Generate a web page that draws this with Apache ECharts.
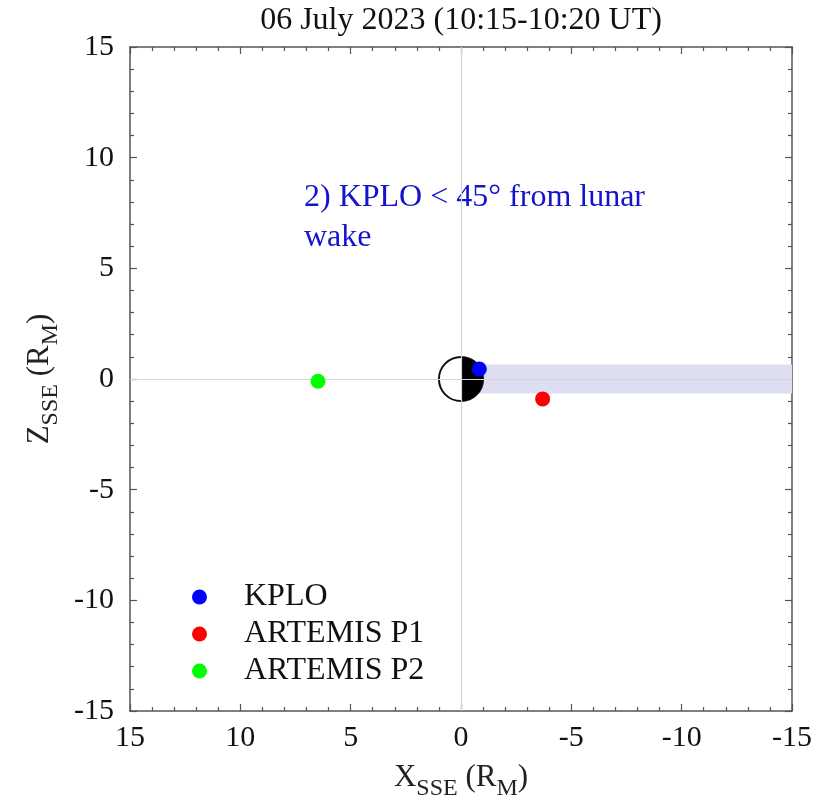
<!DOCTYPE html>
<html>
<head>
<meta charset="utf-8">
<script src="https://cdn.jsdelivr.net/npm/echarts@6/dist/echarts.min.js"></script>
<style>html,body{margin:0;padding:0;background:#fff}#c{width:818px;height:810px}</style>
</head>
<body>
<div id="c"></div>
<script>
// ---- data ----
const titleText = '06 July 2023 (10:15-10:20 UT)';
const seriesNames = ['KPLO', 'ARTEMIS P1', 'ARTEMIS P2'];
const seriesColors = ['#0000ff', '#ff0000', '#00ff00'];
const kploPos = [[-0.83, 0.45]];
const p1Pos = [[-3.7, -0.9]];
const p2Pos = [[6.48, -0.1]];
const moon = [[0, 0, 1]];            // x, z, radius (R_M)
const wake = [[0, -15, -0.65, 0.65]]; // xStart, xEnd, zMin, zMax
const axisMin = -15, axisMax = 15, axisInterval = 5;
const annotation = '2) KPLO < 45° from lunar\nwake';

const FONT = 'Liberation Serif';
const chart = echarts.init(document.getElementById('c'));

const baseAxis = {
  min: axisMin, max: axisMax, interval: axisInterval,
  axisLine: { show: true, onZero: false, lineStyle: { color: '#555', width: 1.5 } },
  axisTick: { show: true, inside: true, length: 7, lineStyle: { color: '#555', width: 1.2 } },
  minorTick: { show: true, splitNumber: 5, length: 4, lineStyle: { color: '#555', width: 1.2 } },
  splitLine: { show: false },
  minorSplitLine: { show: false }
};

const subRich = {
  a: { fontFamily: FONT, fontSize: 31, color: '#222', lineHeight: 36, verticalAlign: 'bottom' },
  s: { fontFamily: FONT, fontSize: 24, color: '#222', lineHeight: 36, verticalAlign: 'bottom', padding: [0, 0, -8, 0] }
};

const option = {
  backgroundColor: '#fff',
  animation: false,
  title: {
    text: titleText, left: 456, top: 0, textAlign: 'center',
    textStyle: { fontFamily: FONT, fontSize: 32, fontWeight: 'normal', color: '#111' }
  },
  grid: { left: 130, right: 26, top: 47, bottom: 99, containLabel: false },
  legend: {
    orient: 'vertical', left: 187, top: 576, itemGap: 5,
    icon: 'circle', itemWidth: 15, itemHeight: 15,
    data: seriesNames,
    itemStyle: { opacity: 1 },
    textStyle: { fontFamily: FONT, fontSize: 32, color: '#111', lineHeight: 31, padding: [0, 0, 0, 32] }
  },
  xAxis: [
    Object.assign({}, baseAxis, {
      type: 'value', position: 'bottom', inverse: true,
      axisLabel: { fontFamily: FONT, fontSize: 30, color: '#111', margin: 12 },
      name: '{a|X}{s|SSE}{a| (R}{s|M}{a|)}', nameLocation: 'middle', nameGap: 46,
      nameTextStyle: { rich: subRich }
    }),
    Object.assign({}, baseAxis, {
      type: 'value', position: 'top', inverse: true, axisLabel: { show: false }
    })
  ],
  yAxis: [
    Object.assign({}, baseAxis, {
      type: 'value', position: 'left',
      axisLabel: { fontFamily: FONT, fontSize: 30, color: '#111', margin: 16 },
      name: '{a|Z}{s|SSE}{a| (R}{s|M}{a|)}', nameLocation: 'middle', nameGap: 56,
      nameTextStyle: { rich: subRich }
    }),
    Object.assign({}, baseAxis, {
      type: 'value', position: 'right', axisLabel: { show: false }
    })
  ],
  graphic: [{
    type: 'text', left: 304, top: 178,
    style: { text: annotation, fontFamily: FONT, fontSize: 32, fill: '#1414cc', lineHeight: 40 }
  }],
  series: [
    {
      type: 'custom', name: 'wake', data: wake, silent: true, z: 1, clip: true,
      renderItem: function (params, api) {
        const p1 = api.coord([api.value(0), api.value(3)]);
        const p2 = api.coord([api.value(1), api.value(2)]);
        return {
          type: 'rect',
          shape: { x: Math.min(p1[0], p2[0]), y: Math.min(p1[1], p2[1]), width: Math.abs(p2[0] - p1[0]), height: Math.abs(p2[1] - p1[1]) },
          style: { fill: '#dedef3' }
        };
      },
      markLine: {
        silent: true, symbol: 'none', label: { show: false },
        lineStyle: { color: '#d6d6d6', width: 1.2, type: 'solid' },
        data: [{ xAxis: 0 }, { yAxis: 0 }]
      }
    },
    {
      type: 'custom', name: 'moon', data: moon, silent: true, z: 3,
      renderItem: function (params, api) {
        const c = api.coord([api.value(0), api.value(1)]);
        const r = api.size([api.value(2), api.value(2)])[0];
        return {
          type: 'group',
          children: [
            { type: 'circle', shape: { cx: c[0], cy: c[1], r: r }, style: { fill: '#fff', stroke: '#111', lineWidth: 2 } },
            { type: 'sector', shape: { cx: c[0], cy: c[1], r0: 0, r: r, startAngle: -Math.PI / 2, endAngle: Math.PI / 2, clockwise: true }, style: { fill: '#000' } }
          ]
        };
      }
    },
    { type: 'scatter', name: seriesNames[0], data: kploPos, symbolSize: 15, itemStyle: { color: seriesColors[0], opacity: 1 }, z: 5 },
    { type: 'scatter', name: seriesNames[1], data: p1Pos, symbolSize: 15, itemStyle: { color: seriesColors[1], opacity: 1 }, z: 5 },
    { type: 'scatter', name: seriesNames[2], data: p2Pos, symbolSize: 15, itemStyle: { color: seriesColors[2], opacity: 1 }, z: 5 }
  ]
};
chart.setOption(option);
</script>
</body>
</html>
